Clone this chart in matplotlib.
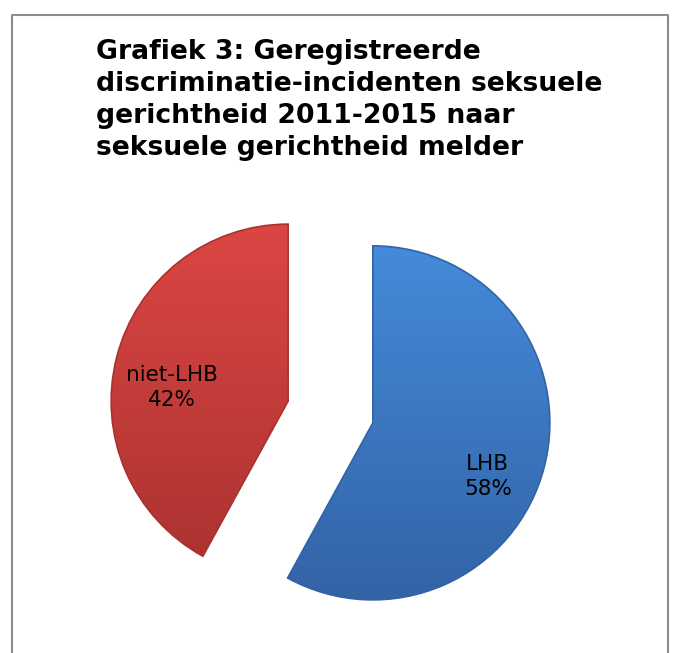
import matplotlib.pyplot as plt
import numpy as np
from matplotlib.colors import LinearSegmentedColormap
from matplotlib.patches import Wedge

title = "Grafiek 3: Geregistreerde\ndiscriminatie-incidenten seksuele\ngerichtheid 2011-2015 naar\nseksuele gerichtheid melder"
labels = ["LHB", "niet-LHB"]
values = [58, 42]
top_colors = ["#448BD9", "#DC4643"]
bottom_colors = ["#3363A6", "#A93230"]

W, H = 676, 653
R = 177
fig = plt.figure(figsize=(W / 100, H / 100), dpi=100)
ax = fig.add_axes([0, 0, 1, 1])

# explode is given in data units (pixels here)
wedges, texts = ax.pie(values, startangle=90, counterclock=False,
                       explode=[0.247 * R, 0.247 * R], radius=R,
                       center=(330.5, H - 412),
                       colors=bottom_colors,
                       wedgeprops=dict(edgecolor="none"))

# vertical gradient fill clipped to each wedge
grad = np.linspace(1, 0, 256).reshape(-1, 1)
for w, ctop, cbot in zip(wedges, top_colors, bottom_colors):
    cx, cy = w.center
    r = w.r
    cmap = LinearSegmentedColormap.from_list("g", [cbot, ctop])
    im = ax.imshow(grad, cmap=cmap, aspect="auto",
                   extent=(cx - r, cx + r, cy - r, cy + r), zorder=2)
    im.set_clip_path(w)
    ax.add_patch(Wedge((cx, cy), r, w.theta1, w.theta2, fill=False,
                       edgecolor=cbot, linewidth=1.2, zorder=3))

ax.set_xlim(0, W)
ax.set_ylim(0, H)
ax.set_aspect("equal")
ax.axis("off")

# data labels inside the slices
label_pos = {"LHB": (115, -54), "niet-LHB": (-116, 14)}
for w, lab, v in zip(wedges, labels, values):
    cx, cy = w.center
    dx, dy = label_pos[lab]
    ax.text(cx + dx, cy + dy, f"{lab}\n{v}%", ha="center", va="center",
            fontsize=15.5, color="black", linespacing=1.3, zorder=4)

fig.text(96 / W, 1 - 39 / H, title, ha="left", va="top",
         fontsize=19.2, fontweight="bold", linespacing=1.3)

# chart frame
ax.plot([12, 12, 668, 668], [0, H - 15, H - 15, 0], color="#8C8C8C",
        linewidth=1.5, zorder=1)

fig.savefig("out.png", dpi=100)
